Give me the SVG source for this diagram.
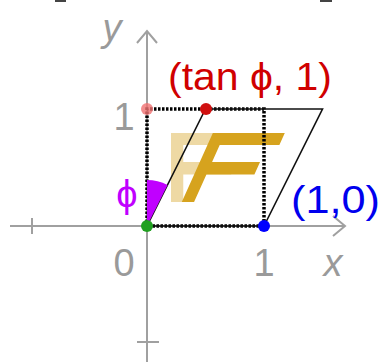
<svg xmlns="http://www.w3.org/2000/svg" width="382" height="362" viewBox="0 0 382 362">
<style>
.ax{stroke:#a0a0a0;stroke-width:2;fill:none}
.lbl{font-family:"Liberation Sans",Arial,sans-serif;font-size:38px}
.gray{fill:#9a9a9a}
.dot{stroke:#000;stroke-width:3.5;stroke-dasharray:2.5 1.5;fill:none}
.solid{stroke:#111;stroke-width:1.6;fill:none;stroke-linejoin:miter}
</style>
<defs>
<polygon id="F" points="0.205,0.205 0.31,0.205 0.31,0.44 0.72,0.44 0.72,0.547 0.31,0.547 0.31,0.692 0.82,0.692 0.82,0.795 0.205,0.795"/>
</defs>
<rect width="382" height="362" fill="#fff"/>
<g id="topmarks" fill="#444">
<rect x="55" y="0" width="11" height="2"/>
<rect x="320" y="0" width="12" height="2"/>
</g>
<g id="axes">
<path class="ax" d="M10,226 H345 M333,216 L345,226 L333,236 M32,218 V234"/>
<path class="ax" d="M147,362 V31 M137,43 L147,31 L157,43 M137,342 H159"/>
<text class="lbl gray" x="124" y="276" text-anchor="middle">0</text>
<text class="lbl gray" x="264" y="276" text-anchor="middle">1</text>
<text class="lbl gray" x="124" y="130" text-anchor="middle">1</text>
<text class="lbl gray" x="112" y="41" text-anchor="middle" font-style="italic">y</text>
<text class="lbl gray" x="333" y="276" text-anchor="middle" font-style="italic">x</text>
</g>
<g id="F-original">
<use href="#F" fill="#eed9a4" transform="matrix(117,0,0,-117,147,226)"/>
</g>
<g id="F-sheared">
<use href="#F" fill="#d6a31e" transform="matrix(117,0,52.65,-117,147,226)"/>
</g>
<g id="connectors">
<path class="dot" d="M147,226 V109 H264 V226 H147"/>
<path class="solid" d="M147,226 H264 L322.5,109 H205.5 Z"/>
</g>
<g id="angle">
<path d="M147,226 L147,180 A46,46 0 0 1 167.6,184.9 Z" fill="#c000ff"/>
<text class="lbl" x="127" y="207" text-anchor="middle" fill="#c000ff">ϕ</text>
</g>
<g id="points">
<circle cx="147" cy="109" r="6" fill="#f07070" opacity="0.8"/>
<circle cx="147" cy="226" r="6" fill="#20a020"/>
<circle cx="264" cy="226" r="6" fill="#0000ff"/>
<circle cx="206" cy="109" r="6" fill="#d01010"/>
</g>
<g id="point-labels">
<text class="lbl" x="168" y="90" fill="#d00000" textLength="164" lengthAdjust="spacingAndGlyphs">(tan ϕ, 1)</text>
<text class="lbl" x="291" y="213" fill="#0000ee" textLength="89" lengthAdjust="spacingAndGlyphs">(1,0)</text>
</g>
</svg>
